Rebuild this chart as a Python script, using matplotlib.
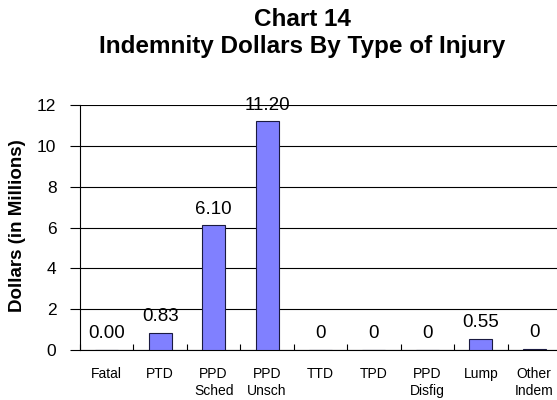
import matplotlib.pyplot as plt
import numpy as np

# Indemnity dollars (in millions) by type of injury
kategorien = ["Fatal", "PTD", "PPD\nSched", "PPD\nUnsch", "TTD", "TPD",
              "PPD\nDisfig", "Lump", "Other\nIndem"]
dollar_mio = [0.0, 0.83, 6.10, 11.20, 0.0, 0.0, 0.0, 0.55, 0.06]
beschriftung = ["0.00", "0.83", "6.10", "11.20", "0", "0", "0", "0.55", "0"]

plt.rcParams["font.family"] = ["Liberation Sans", "DejaVu Sans"]

fig = plt.figure(figsize=(5.57, 4.0), dpi=100)
ax = fig.add_axes([80 / 557, 50 / 400, 481 / 557, 245 / 400])

x = np.arange(len(kategorien))
ax.bar(x, dollar_mio, width=0.43, color="#8080ff", edgecolor="#1a1a40",
       linewidth=0.8, zorder=3)

for xi, wert, text in zip(x, dollar_mio, beschriftung):
    ax.annotate(text, (xi, wert), xytext=(0, 5.5), textcoords="offset points",
                ha="center", va="bottom", fontsize=13.5, zorder=4)

ax.set_xlim(-0.5, len(kategorien) - 0.5)
ax.set_ylim(0, 12)
ax.set_yticks(np.arange(0, 13, 2))
ax.yaxis.grid(True, color="black", linewidth=0.8, zorder=0)

# Kategorie-Labels mittig, Striche an den Grenzen
ax.set_xticks(x)
ax.set_xticklabels(kategorien, fontsize=10, linespacing=1.3, va="top")
ax.set_xticks(np.arange(-0.5, len(kategorien), 1), minor=True)
ax.tick_params(axis="x", which="major", length=0, pad=12)
ax.tick_params(axis="x", which="minor", direction="in", length=4, width=0.8)
ax.tick_params(axis="y", direction="out", length=7, width=0.8, pad=10,
               labelsize=12.5)

for seite in ["top", "right"]:
    ax.spines[seite].set_visible(False)
ax.spines["left"].set_linewidth(0.8)
ax.spines["bottom"].set_linewidth(0.8)

fig.text(18 / 557, 1 - 226 / 400, "Dollars (in Millions)", rotation=90,
         ha="center", va="center", fontsize=13.5, fontweight="bold")
fig.text(302 / 557, 1 - 20 / 400, "Chart 14", ha="center", va="center",
         fontsize=17.5, fontweight="bold")
fig.text(302 / 557, 1 - 47 / 400, "Indemnity Dollars By Type of Injury",
         ha="center", va="center", fontsize=17.5, fontweight="bold")

fig.savefig("out.png", dpi=100)
